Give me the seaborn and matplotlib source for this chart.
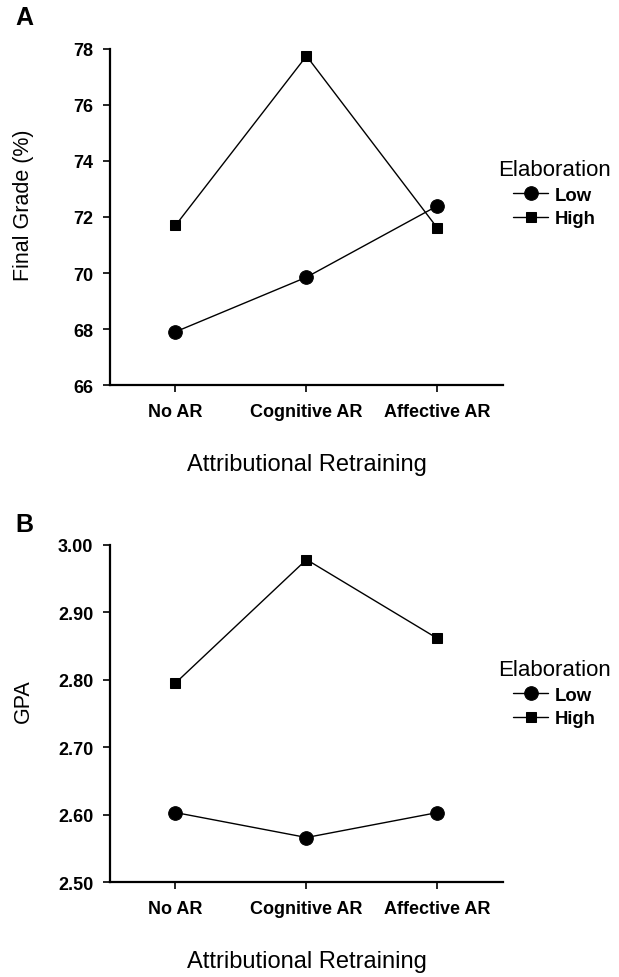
import matplotlib
matplotlib.use("Agg")
import matplotlib.pyplot as plt
import seaborn as sns
import pandas as pd

conditions = ["No AR", "Cognitive AR", "Affective AR"]
elaboration = ["Low", "High"]

grade_low = [67.9, 69.85, 72.4]
grade_high = [71.7, 77.75, 71.6]

gpa_low = [2.603, 2.566, 2.603]
gpa_high = [2.795, 2.978, 2.861]

grade_ticks = [66, 68, 70, 72, 74, 76, 78]
gpa_ticks = [2.50, 2.60, 2.70, 2.80, 2.90, 3.00]


def make_frame(low, high):
    rows = []
    for lvl, vals in zip(elaboration, [low, high]):
        for c, v in zip(conditions, vals):
            rows.append({"ar": c, "value": v, "elab": lvl})
    return pd.DataFrame(rows)


sns.set_theme(style="ticks")
plt.rcParams["font.family"] = ["Liberation Sans", "DejaVu Sans"]
plt.rcParams["text.color"] = "black"
plt.rcParams["axes.labelcolor"] = "black"
plt.rcParams["xtick.color"] = "black"
plt.rcParams["ytick.color"] = "black"

fig = plt.figure(figsize=(6.19, 9.78), dpi=100)
ax_a = fig.add_axes([0.1777, 0.6053, 0.6349, 0.3436])
ax_b = fig.add_axes([0.1777, 0.0971, 0.6349, 0.3449])

panels = [
    (ax_a, make_frame(grade_low, grade_high), grade_ticks, "Final Grade (%)", "%d", "A", 0.571),
    (ax_b, make_frame(gpa_low, gpa_high), gpa_ticks, "GPA", "%.2f", "B", 0.56),
]

for ax, df, ticks, ylab, fmt, letter, leg_y in panels:
    sns.pointplot(data=df, x="ar", y="value", hue="elab", order=conditions,
                  hue_order=elaboration, markers=["o", "s"], linestyles=["-", "-"],
                  palette=["black", "black"], errorbar=None, linewidth=1.0,
                  legend=False, ax=ax)
    ax.lines[0].set_markersize(9.8)
    ax.lines[1].set_markersize(7.6)
    for ln in ax.lines:
        ln.set_clip_on(False)

    ax.set_xlim(-0.5, 2.5)
    ax.set_ylim(ticks[0], ticks[-1])
    ax.set_yticks(ticks)
    ax.set_yticklabels([fmt % t for t in ticks])
    sns.despine(ax=ax)
    for s in ["left", "bottom"]:
        ax.spines[s].set_linewidth(1.6)
        ax.spines[s].set_color("black")
    ax.tick_params(axis="both", direction="out", length=5, width=1.2, colors="black")
    ax.tick_params(axis="x", pad=8)
    ax.tick_params(axis="y", pad=7)
    for lab in ax.get_xticklabels() + ax.get_yticklabels():
        lab.set_fontweight("bold")
        lab.set_fontsize(13)

    ax.set_xlabel("Attributional Retraining", fontsize=17, color="black")
    ax.xaxis.label.set_va("center")
    ax.xaxis.set_label_coords(0.5, -0.235)
    ax.set_ylabel(ylab, fontsize=15.5, color="black")
    ax.yaxis.label.set_va("center")
    ax.yaxis.set_label_coords(-0.221, 0.539)

    leg = ax.legend(handles=ax.lines[:2], labels=elaboration, title="Elaboration",
                    loc="center left", bbox_to_anchor=(0.987, leg_y),
                    borderaxespad=0, borderpad=0, frameon=False,
                    handlelength=1.9, handletextpad=0.33, labelspacing=0.35,
                    prop={"weight": "bold", "size": 13.3},
                    title_fontproperties={"size": 16})

fig.text(15 / 619, 1 - 18 / 978, "A", fontsize=18, fontweight="bold", va="center", ha="left")
fig.text(15 / 619, 1 - 525 / 978, "B", fontsize=18, fontweight="bold", va="center", ha="left")

fig.savefig("out.png", dpi=100)
plt.close(fig)
